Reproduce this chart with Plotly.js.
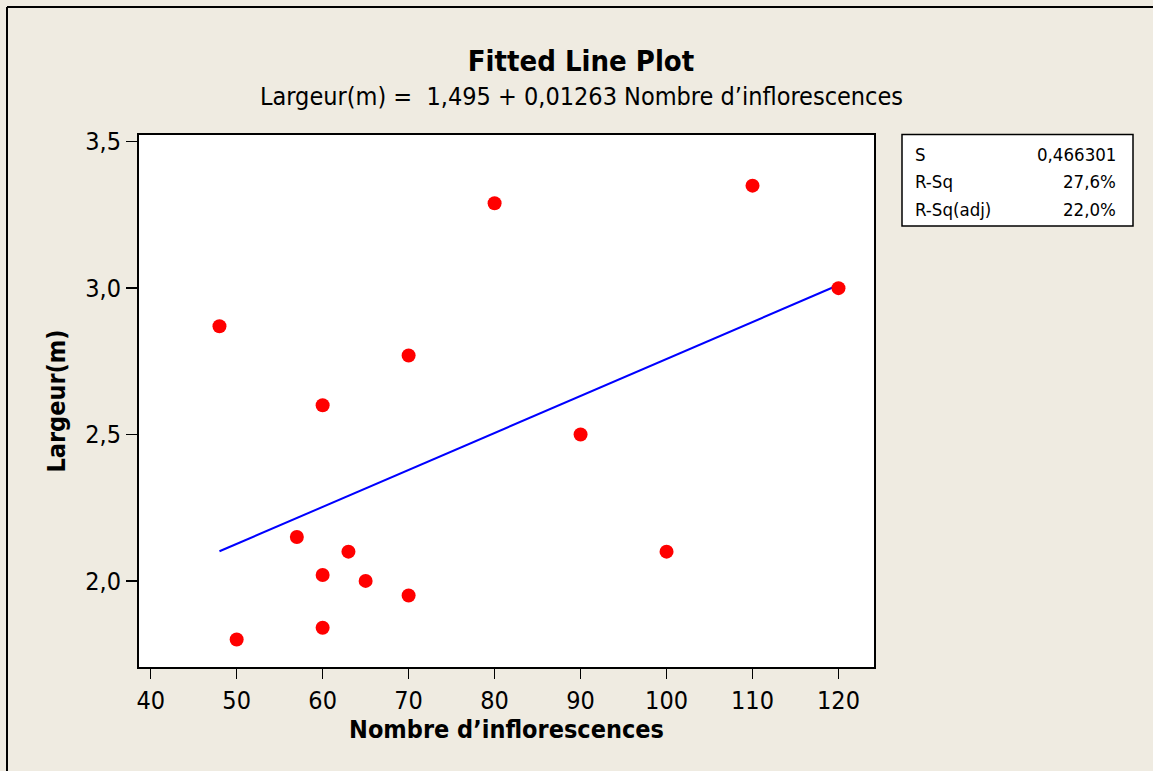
<!DOCTYPE html>
<html>
<head>
<meta charset="utf-8">
<script src="https://cdn.plot.ly/plotly-3.0.1.min.js"></script>
<style>
  html, body { margin: 0; padding: 0; background: #EFEBE1; }
  #chart { width: 1153px; height: 771px; }
</style>
</head>
<body>
<div id="chart"></div>
<script>
// Observations: number of inflorescences vs. width (m)
const inflorescences = [48, 50, 57, 60, 60, 60, 63, 65, 70, 70, 80, 90, 100, 110, 120];
const largeur = [2.87, 1.80, 2.15, 2.60, 2.02, 1.84, 2.10, 2.00, 2.77, 1.95, 3.29, 2.50, 2.10, 3.35, 3.00];

// Regression coefficients: Largeur(m) = intercept + slope * Nombre d'inflorescences
const intercept = [1.495];
const slope = [0.01263];

// Summary statistics shown in the side box
const statLabels = ["S", "R-Sq", "R-Sq(adj)"];
const statValues = ["0,466301", "27,6%", "22,0%"];

const xTicks = [40, 50, 60, 70, 80, 90, 100, 110, 120];
const yTicks = [2.0, 2.5, 3.0, 3.5];

const W = 1153, H = 771;
const M = { l: 139, r: 279, t: 135, b: 104 };
const pw = W - M.l - M.r, ph = H - M.t - M.b;
const px = x => (x - M.l) / pw;          // pixel -> paper x
const py = y => (H - M.b - y) / ph;      // pixel -> paper y

const FONT = '"DejaVu Sans Condensed", "DejaVu Sans", sans-serif';

const xMin = Math.min(...inflorescences), xMax = Math.max(...inflorescences);
const fitX = [xMin, xMax];
const fitY = fitX.map(v => intercept[0] + slope[0] * v);

const traces = [
  {
    x: fitX, y: fitY, type: 'scatter', mode: 'lines',
    line: { color: '#0000FF', width: 2 }, hoverinfo: 'skip', showlegend: false
  },
  {
    x: inflorescences, y: largeur, type: 'scatter', mode: 'markers',
    marker: { color: '#FF0000', size: 14, line: { width: 0 } }, showlegend: false
  }
];

const boxL = 902, boxR = 1133, boxT = 134.5, boxB = 226;
const rowY = [154, 181, 209];

const annotations = [
  {
    text: 'Largeur(m) =  1,495 + 0,01263 Nombre d’inflorescences',
    xref: 'paper', yref: 'paper', x: px(581), y: py(96),
    xanchor: 'center', yanchor: 'middle', showarrow: false,
    font: { family: FONT, size: 25, color: '#000' }
  }
];
statLabels.forEach((lab, i) => {
  annotations.push({
    text: lab, xref: 'paper', yref: 'paper', x: px(913), y: py(rowY[i]),
    xanchor: 'left', yanchor: 'middle', showarrow: false,
    font: { family: FONT, size: 18.5, color: '#000' }
  });
  annotations.push({
    text: statValues[i], xref: 'paper', yref: 'paper', x: px(1118), y: py(rowY[i]),
    xanchor: 'right', yanchor: 'middle', showarrow: false,
    font: { family: FONT, size: 18.5, color: '#000' }
  });
});

const shapes = [
  // stats box
  { type: 'rect', xref: 'paper', yref: 'paper',
    x0: px(boxL), x1: px(boxR), y0: py(boxB), y1: py(boxT),
    line: { color: '#000', width: 1.5 }, fillcolor: '#FFFFFF', layer: 'below' },
  // outer frame edges (left and top)
  { type: 'line', xref: 'paper', yref: 'paper',
    x0: px(7), x1: px(7), y0: py(7), y1: py(H + 5), line: { color: '#000', width: 2 } },
  { type: 'line', xref: 'paper', yref: 'paper',
    x0: px(7), x1: px(W + 5), y0: py(7), y1: py(7), line: { color: '#000', width: 2 } }
];

const axisCommon = {
  showgrid: false, zeroline: false,
  showline: true, mirror: true, linecolor: '#000', linewidth: 2,
  ticks: 'outside', tickcolor: '#000', tickwidth: 1.5,
  tickfont: { family: FONT, size: 25, color: '#000' },
  fixedrange: true
};

const layout = {
  width: W, height: H,
  margin: M,
  paper_bgcolor: '#EFEBE1',
  plot_bgcolor: '#FFFFFF',
  separators: ', ',
  showlegend: false,
  title: {
    text: '<b>Fitted Line Plot</b>',
    xref: 'container', yref: 'container',
    x: 581 / W, y: 1 - 61 / H, xanchor: 'center', yanchor: 'middle',
    font: { family: FONT, size: 29, color: '#000' }
  },
  xaxis: Object.assign({}, axisCommon, {
    range: [38.64, 124.13],
    tickvals: xTicks, ticklen: 10,
    title: { text: '<b>Nombre d’inflorescences</b>', standoff: 5,
             font: { family: FONT, size: 25, color: '#000' } }
  }),
  yaxis: Object.assign({}, axisCommon, {
    range: [1.706, 3.523],
    tickvals: yTicks, tickformat: '.1f', ticklen: 11,
    title: { text: '<b>Largeur(m)</b>', standoff: 12,
             font: { family: FONT, size: 25, color: '#000' } }
  }),
  annotations: annotations,
  shapes: shapes
};

Plotly.newPlot('chart', traces, layout, { displayModeBar: false, staticPlot: true });
</script>
</body>
</html>
